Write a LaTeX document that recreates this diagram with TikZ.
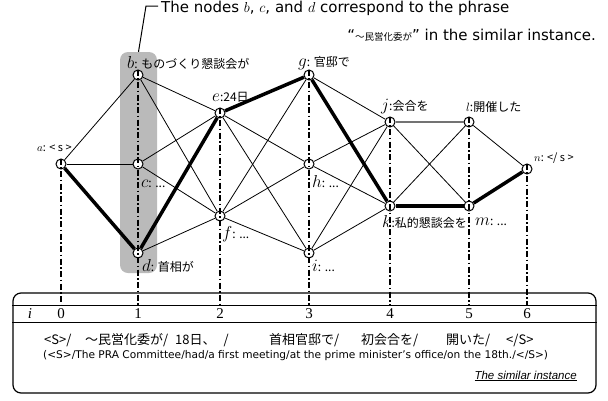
\documentclass[tikz,border=0pt]{standalone}
\usepackage{fontspec}
\setmainfont{Liberation Sans}
\newfontfamily\jp{Noto Sans CJK JP}
\newfontfamily\numfont{Liberation Serif}
\newfontfamily\wide{DejaVu Sans}
\newcommand\nd[1]{{\fontsize{16}{16}\selectfont$#1$}}
\begin{document}
\begin{tikzpicture}[x=1pt, y=-1pt,
  vertex/.style={draw, circle, fill=white, line width=1pt, inner sep=0pt, minimum size=10pt},
  edge/.style={line width=0.8pt, black},
  best/.style={line width=3.5pt, black},
  guide/.style={line width=1.5pt, dash pattern=on 6pt off 2.5pt on 1.5pt off 2.5pt},
  tag/.style={anchor=west, inner sep=0pt, font=\jp\fontsize{12}{12}\selectfont},
  small tag/.style={tag, font=\jp\fontsize{11}{11}\selectfont},
  word/.style={tag, font=\jp\fontsize{13}{13}\selectfont}]
  \useasboundingbox (0,0) rectangle (608,400);

  \node (group) at (138.5,162.5) [fill=black!27, rounded corners=8pt, minimum width=37pt, minimum height=221pt, inner sep=0pt] {};

  \coordinate (cbend) at (146,6);
  \coordinate (cend)  at (158,6);
  \draw (group.north) -- (cbend) -- (cend) [line width=1pt];
  \node (note1) at (161,8)  [anchor=west, inner sep=0pt, font=\wide\fontsize{15}{15}\selectfont] {The nodes $b$, $c$, and $d$ correspond to the phrase};
  \node (note2) at (596,35) [anchor=east, inner sep=0pt, font=\wide\fontsize{15}{15}\selectfont] {“{\jp\fontsize{9.5}{9.5}\selectfont ～民営化委が}” in the similar instance.};

  \node (a) at (61,164)  [vertex] {};
  \node (b) at (138,75)  [vertex] {};
  \node (c) at (138,164) [vertex] {};
  \node (d) at (138,253) [vertex] {};
  \node (e) at (220,113) [vertex] {};
  \node (f) at (220,216) [vertex] {};
  \node (g) at (309,75)  [vertex] {};
  \node (h) at (309,164) [vertex] {};
  \node (i) at (309,253) [vertex] {};
  \node (j) at (390,122) [vertex] {};
  \node (k) at (390,206) [vertex] {};
  \node (l) at (469,122) [vertex] {};
  \node (m) at (469,206) [vertex] {};
  \node (n) at (527,169) [vertex] {};

  \draw (a) -- (b) [edge];
  \draw (a) -- (c) [edge];
  \draw (b) -- (e) [edge];
  \draw (b) -- (f) [edge];
  \draw (c) -- (e) [edge];
  \draw (c) -- (f) [edge];
  \draw (d) -- (f) [edge];
  \draw (e) -- (h) [edge];
  \draw (e) -- (i) [edge];
  \draw (f) -- (g) [edge];
  \draw (f) -- (h) [edge];
  \draw (f) -- (i) [edge];
  \draw (g) -- (j) [edge];
  \draw (h) -- (j) [edge];
  \draw (h) -- (k) [edge];
  \draw (i) -- (j) [edge];
  \draw (i) -- (k) [edge];
  \draw (j) -- (m) [edge];
  \draw (k) -- (l) [edge];
  \draw (l) -- (n) [edge];
  \draw (j) -- (l) [line width=1.3pt, black!55];

  \draw (a) -- (d) [best];
  \draw (d) -- (e) [best];
  \draw (e) -- (g) [best];
  \draw (g) -- (k) [best];
  \draw (k) -- (m) [best];
  \draw (m) -- (n) [best];

  \node (ta) at (37,148)  [small tag] {$a$: < s >};
  \node (tb) at (127,63)  [tag] {\nd{b}: ものづくり懇談会が};
  \node (tc) at (141,184) [tag] {\nd{c}: ...};
  \node (td) at (142,266) [tag] {\nd{d}: 首相が};
  \node (te) at (212,97)  [tag] {\nd{e}:24日};
  \node (tf) at (222,234) [tag] {\nd{f}: ...};
  \node (tg) at (298,63)  [tag] {\nd{g}: 官邸で};
  \node (th) at (312,182) [tag] {\nd{h}: ...};
  \node (ti) at (312,266) [tag] {\nd{i}: ...};
  \node (tj) at (381,107) [tag] {\nd{j}:会合を};
  \node (tk) at (382,222) [tag] {\nd{k}:私的懇談会を};
  \node (tl) at (466,107) [tag] {$l$:開催した};
  \node (tm) at (475,222) [tag] {\nd{m}: ...};
  \node (tn) at (534,158) [small tag] {$n$: </ s >};

  % the table of the similar instance
  \node (frame) at (304.5,343) [draw, rounded corners=8pt, minimum width=583pt, minimum height=100pt, line width=1.2pt] {};
  \draw (frame.west |- 0,305) -- (frame.east |- 0,305) [line width=1pt];
  \draw (frame.west |- 0,322) -- (frame.east |- 0,322) [line width=1pt];
  \node (idx) at (30,314) [font=\numfont\itshape\fontsize{15}{15}\selectfont, inner sep=0pt] {i};

  \foreach \v/\k in {a/0, b/1, e/2, g/3, j/4, l/5, n/6} {
    \coordinate (t\k) at (\v |- 0,305);
    \draw (\v.north) -- (t\k) [guide];
    \node (num\k) at (\v |- 0,314) [font=\numfont\fontsize{15}{15}\selectfont, inner sep=0pt] {\k};
  }

  \node (w1) at (44,340)  [word] {<S>/};
  \node (w2) at (85,340)  [word] {～民営化委が/};
  \node (w3) at (175,340) [word] {18日、\hspace{8pt}/};
  \node (w4) at (269,340) [word] {首相官邸で/};
  \node (w5) at (361,340) [word] {初会合を/};
  \node (w6) at (446,340) [word] {開いた/};
  \node (w7) at (506,340) [word] {</S>};
  \node (gloss) at (43,356) [tag, font=\wide\fontsize{10.6}{11}\selectfont] {(<S>/The PRA Committee/had/a first meeting/at the prime minister’s office/on the 18th./</S>)};
  \node (title) at (577,376) [anchor=east, inner sep=0pt, font=\itshape\fontsize{11.5}{12}\selectfont] {\underline{The similar instance}};
\end{tikzpicture}
\end{document}
